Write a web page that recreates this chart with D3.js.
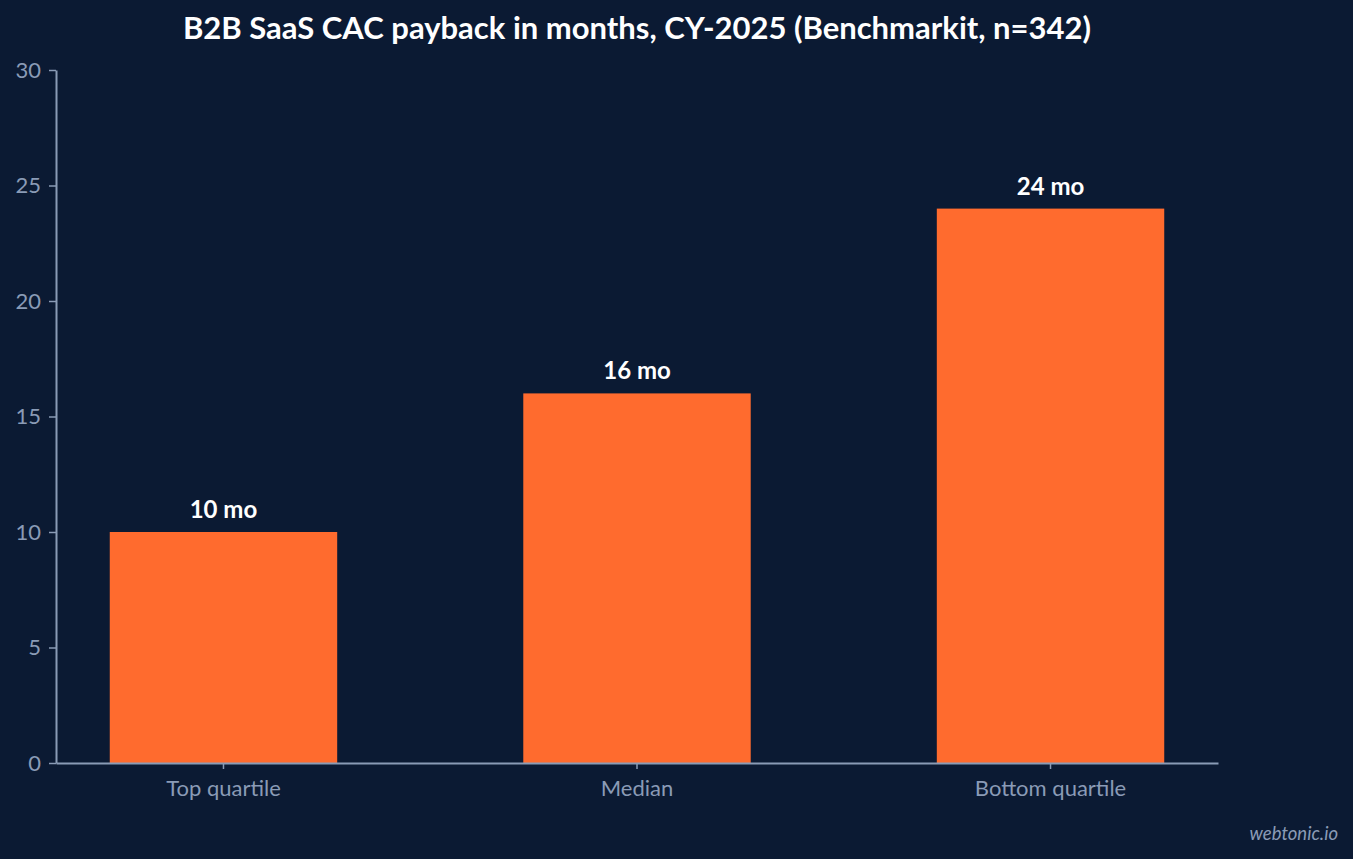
<!DOCTYPE html>
<html>
<head>
<meta charset="utf-8">
<script src="https://cdn.jsdelivr.net/npm/d3@7"></script>
<style>
  html, body { margin: 0; padding: 0; background: #0b1a33; }
  svg { display: block; font-family: Lato, sans-serif; }
</style>
</head>
<body>
<div class="chart"></div>
<script>
// data
const categories = ["Top quartile", "Median", "Bottom quartile"];
const payback = [10, 16, 24];
const yTicks = [0, 5, 10, 15, 20, 25, 30];

const width = 1353,
    height = 859,
    margin = ({ top: 70, right: 135, bottom: 96, left: 56 });

const axisColor = "#8a9bb6";

const svg = d3.select(".chart").append("svg")
    .attr("width", width)
    .attr("height", height)
    .attr("viewBox", [0, 0, width, height]);

svg.append("rect")
    .attr("width", width)
    .attr("height", height)
    .attr("fill", "#0b1a33");

const x = d3.scaleBand()
    .domain(categories)
    .range([margin.left, width - margin.right])
    .paddingInner(0.45)
    .paddingOuter(0.13);

const y = d3.scaleLinear()
    .domain([0, 30])
    .range([height - margin.bottom, margin.top]);

// bars
svg.append("g")
    .selectAll("rect")
    .data(payback)
    .join("rect")
    .attr("x", (d, i) => x(categories[i]))
    .attr("y", d => y(d))
    .attr("width", x.bandwidth())
    .attr("height", d => y(0) - y(d))
    .attr("fill", "#ff6b2e");

// value labels
svg.append("g")
    .selectAll("text")
    .data(payback)
    .join("text")
    .attr("x", (d, i) => x(categories[i]) + x.bandwidth() / 2)
    .attr("y", d => y(d) - 14)
    .attr("text-anchor", "middle")
    .attr("fill", "#ffffff")
    .attr("font-size", 24)
    .attr("font-weight", "bold")
    .text(d => `${d} mo`);

const xAxis = g => g
    .attr("transform", `translate(0,${height - margin.bottom})`)
    .call(d3.axisBottom(x).tickSize(6).tickSizeOuter(0).tickPadding(11))
    .call(g => g.select(".domain").attr("stroke", axisColor).attr("stroke-width", 2))
    .call(g => g.selectAll(".tick line").attr("stroke", axisColor).attr("stroke-width", 1.5))
    .call(g => g.selectAll(".tick text")
        .attr("fill", axisColor)
        .attr("font-size", 22)
        .attr("font-family", "Lato, sans-serif"));

const yAxis = g => g
    .attr("transform", `translate(${margin.left},0)`)
    .call(d3.axisLeft(y).tickValues(yTicks).tickSize(7).tickSizeOuter(0).tickPadding(8))
    .call(g => g.select(".domain").attr("stroke", axisColor).attr("stroke-width", 2))
    .call(g => g.selectAll(".tick line").attr("stroke", axisColor).attr("stroke-width", 1.5))
    .call(g => g.selectAll(".tick text")
        .attr("fill", axisColor)
        .attr("font-size", 22)
        .attr("font-family", "Lato, sans-serif"));

svg.append("g").call(xAxis);
svg.append("g").call(yAxis);

// title
svg.append("text")
    .attr("x", (margin.left + width - margin.right) / 2)
    .attr("y", 39)
    .attr("text-anchor", "middle")
    .attr("fill", "#ffffff")
    .attr("font-size", 31)
    .attr("font-weight", "bold")
    .text("B2B SaaS CAC payback in months, CY-2025 (Benchmarkit, n=342)");

// credit
svg.append("text")
    .attr("x", width - 15)
    .attr("y", 840)
    .attr("text-anchor", "end")
    .attr("fill", axisColor)
    .attr("font-size", 18.5)
    .attr("font-style", "italic")
    .text("webtonic.io");
</script>
</body>
</html>
